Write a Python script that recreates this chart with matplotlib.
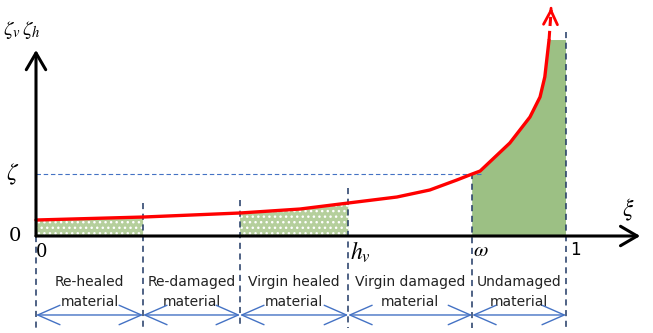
import numpy as np
import matplotlib.pyplot as plt

plt.rcParams['mathtext.fontset'] = 'stix'

# healing/damage curve zeta(xi)
xi_pts = [0.0, 0.202, 0.385, 0.498, 0.589, 0.681, 0.743, 0.794, 0.823,
          0.838, 0.894, 0.932, 0.951, 0.960, 0.968]
zeta_pts = [0.258, 0.306, 0.371, 0.435, 0.532, 0.629, 0.742, 0.903, 1.0,
            1.048, 1.5, 1.919, 2.242, 2.565, 3.161]
curve_tip = (0.972, 3.73)

zeta_level = 1.0
bounds = [0.0, 0.202, 0.385, 0.589, 0.823, 1.0]
bound_tops = [0.0, 0.53, 0.58, 0.77, 1.02, 3.29]
region_labels = [("Re-healed", "material"), ("Re-damaged", "material"),
                 ("Virgin healed", "material"), ("Virgin damaged", "material"),
                 ("Undamaged", "material")]

xi = np.array(xi_pts)
zeta = np.array(zeta_pts)

fig = plt.figure(figsize=(6.53, 3.33), dpi=100)
ax = fig.add_axes([0, 0, 1, 1])
ax.set_xlim(-36 / 530, 617 / 530)
ax.set_ylim(-97 / 62, 236 / 62)
ax.axis('off')

green = '#9cc084'
navy = '#1f3864'
blue = '#4472c4'

# dotted fills under the curve for the healed regions
for a, b in [(bounds[0], bounds[1]), (bounds[2], bounds[3])]:
    m = (xi >= a) & (xi <= b)
    ax.fill_between(xi[m], 0, zeta[m], facecolor='#b5cf9c', edgecolor='white',
                    hatch='...', linewidth=0, zorder=1)

# solid fill for the undamaged region
m = xi >= bounds[4]
poly_x = list(xi[m]) + [bounds[5], bounds[5], bounds[4]]
poly_y = list(zeta[m]) + [zeta[-1], 0, 0]
ax.fill(poly_x, poly_y, color=green, linewidth=0, zorder=1)

# zeta level
ax.plot([0, 0.84], [zeta_level, zeta_level], color=blue, lw=0.8,
        ls=(0, (4, 2.5)), zorder=2)

# region boundaries
for b, top in zip(bounds, bound_tops):
    ax.plot([b, b], [top, -1.48], color=navy, lw=1.1, ls=(0, (4, 3)), zorder=2)

# curve
ax.plot(xi, zeta, color='red', lw=2.4, zorder=4, solid_capstyle='round')
ax.plot([xi[-1], curve_tip[0]], [zeta[-1], curve_tip[1] - 0.08], color='red',
        lw=2.2, ls=(0, (3, 1.6)), zorder=4)
ax.annotate('', xy=curve_tip, xytext=(curve_tip[0] - 0.0004, curve_tip[1] - 0.1),
            arrowprops=dict(arrowstyle='->, head_length=0.5, head_width=0.25',
                            color='red', lw=2.0, mutation_scale=20), zorder=5)

# coordinate axes
ax.annotate('', xy=(1.14, 0), xytext=(0, 0),
            arrowprops=dict(arrowstyle='->, head_length=0.6, head_width=0.35',
                            color='black', lw=2.2, mutation_scale=20,
                            shrinkA=0, shrinkB=0), zorder=6)
ax.annotate('', xy=(0, 3.0), xytext=(0, 0),
            arrowprops=dict(arrowstyle='->, head_length=0.6, head_width=0.35',
                            color='black', lw=2.2, mutation_scale=20,
                            shrinkA=0, shrinkB=0), zorder=6)

# axis labels and marks
ax.text(-0.026, 3.32, r'$\zeta_v\,\zeta_h$', fontsize=15, ha='center', va='center')
ax.text(1.117, 0.42, r'$\xi$', fontsize=17, ha='center', va='center')
ax.text(-0.045, zeta_level, r'$\zeta$', fontsize=17, ha='center', va='center')
ax.text(-0.04, 0, '0', fontsize=14, ha='center', va='center', family='DejaVu Serif')
ax.text(0.0113, -0.26, '0', fontsize=13, ha='center', va='center', family='DejaVu Serif')
ax.text(0.613, -0.26, r'$h_v$', fontsize=17, ha='center', va='center')
ax.text(0.84, -0.23, r'$\omega$', fontsize=15, ha='center', va='center')
ax.text(1.017, -0.23, '1', fontsize=12, ha='center', va='center')

# region labels with span arrows
for (a, b), (l1, l2) in zip(zip(bounds[:-1], bounds[1:]), region_labels):
    c = (a + b) / 2
    ax.text(c, -0.742, l1, fontsize=10, ha='center', va='center', color='#222222')
    ax.text(c, -1.065, l2, fontsize=10, ha='center', va='center', color='#222222')
    ax.annotate('', xy=(b, -1.274), xytext=(a, -1.274),
                arrowprops=dict(arrowstyle='<->, head_length=0.8, head_width=0.35',
                                color=blue, lw=1.0, mutation_scale=20,
                                shrinkA=0, shrinkB=0), zorder=3)

fig.savefig('out.png', dpi=100)
